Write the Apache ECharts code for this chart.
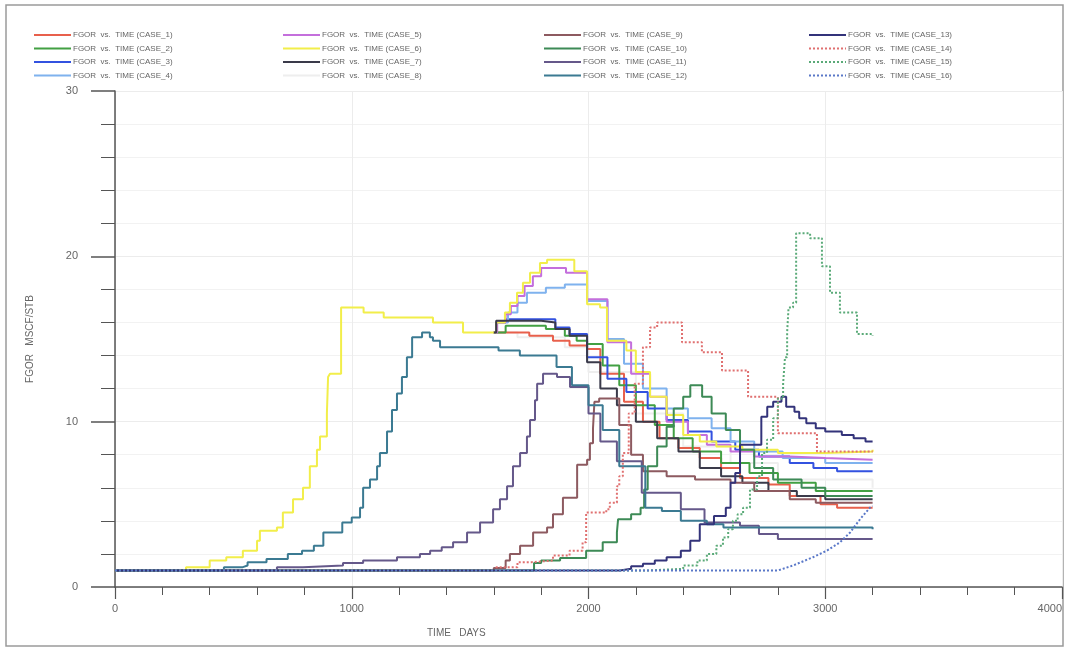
<!DOCTYPE html>
<html>
<head>
<meta charset="utf-8">
<title>FGOR vs. TIME</title>
<script src="https://cdn.jsdelivr.net/npm/echarts@6/dist/echarts.min.js"></script>
<style>
  html, body { margin: 0; padding: 0; background: #ffffff; }
  #chart { width: 1065px; height: 652px; }
</style>
</head>
<body>
<div id="chart"></div>
<script>
// FGOR (MSCF/STB) against TIME (DAYS) for sixteen simulation cases.
// Each array holds [time, value] pairs; the value holds until the next time.

const case1 = [[1600,15.4],[1750,15.2],[1850,14.9],[1920,14.6],[1994,14.4],[2050,12.9],[2150,11.2],[2230,10.0],[2300,9.0],[2380,8.4],[2470,7.8],[2560,7.2],[2640,6.6],[2760,6.2],[2850,5.5],[2980,5.0],[3050,4.8],[3200,4.8]];
const case2 = [[1600,15.4],[1650,15.8],[1820,15.6],[1900,15.2],[1950,14.9],[1994,14.7],[2060,13.4],[2130,12.2],[2200,11.0],[2280,9.8],[2360,9.0],[2440,8.2],[2560,7.5],[2680,6.9],[2800,6.3],[2960,5.8],[3200,5.8]];
const case3 = [[1600,15.4],[1610,16.0],[1650,16.2],[1860,15.7],[1920,15.3],[1994,13.9],[2080,12.6],[2160,11.8],[2250,10.8],[2330,10.1],[2420,9.4],[2520,8.8],[2620,8.3],[2720,7.9],[2850,7.5],[2950,7.2],[3050,7.0],[3200,7.0]];
const case4 = [[1600,15.4],[1614,16.0],[1660,16.6],[1700,17.2],[1740,17.8],[1820,18.1],[1900,18.3],[1994,17.3],[2080,15.0],[2150,13.5],[2230,12.0],[2330,10.8],[2420,10.2],[2520,9.6],[2600,8.8],[2700,8.2],[2820,7.8],[3000,7.5],[3200,7.5]];
const case5 = [[1600,15.4],[1614,16.0],[1650,16.5],[1672,17.0],[1700,17.6],[1730,18.2],[1765,18.8],[1800,19.3],[1905,19.0],[1994,17.4],[2080,14.8],[2180,12.9],[2260,11.5],[2330,10.0],[2420,9.2],[2500,8.6],[2600,8.2],[2700,7.9],[2850,7.8],[3000,7.7],[3200,7.7]];
const case6 = [[0,1.0],[300,1.2],[400,1.6],[470,1.8],[540,2.2],[600,2.8],[612,3.4],[684,3.6],[709,4.5],[752,5.3],[794,6.0],[823,7.3],[853,8.3],[866,9.1],[895,10.5],[900,12.7],[908,12.9],[955,16.9],[1050,16.6],[1135,16.3],[1343,16.0],[1470,15.4],[1610,16.0],[1647,16.6],[1668,17.2],[1698,17.8],[1723,18.4],[1753,19.0],[1795,19.6],[1825,19.8],[1940,19.1],[1994,17.1],[2049,16.9],[2078,14.9],[2160,14.3],[2200,13.0],[2260,11.5],[2330,10.4],[2400,9.2],[2470,8.8],[2540,8.5],[2650,8.3],[2800,8.1],[3000,8.2],[3200,8.3]];
const case7 = [[1600,15.4],[1610,16.1],[1800,16.0],[1860,15.6],[1920,15.2],[1994,13.6],[2050,12.0],[2120,11.0],[2200,10.0],[2290,9.0],[2380,8.2],[2470,7.2],[2560,6.7],[2650,6.3],[2760,5.8],[2880,5.5],[3000,5.3],[3200,5.3]];
const case8 = [[1600,15.4],[1700,15.1],[1900,14.5],[2000,13.0],[2200,10.5],[2400,8.5],[2600,7.5],[2800,6.5],[3200,6.0]];
const case9 = [[0,1.0],[1600,1.15],[1650,1.6],[1668,2.0],[1711,2.5],[1766,3.3],[1825,3.6],[1850,4.4],[1892,5.4],[1952,7.4],[1994,7.7],[2006,8.7],[2019,9.6],[2025,11.2],[2045,11.4],[2130,9.8],[2180,8.0],[2230,7.0],[2330,6.7],[2450,6.5],[2600,6.3],[2700,5.8],[2850,5.3],[2960,5.1],[3200,5.1]];
const case10 = [[0,1.0],[1770,1.45],[1800,1.6],[1880,1.75],[1990,2.2],[2060,2.7],[2120,3.3],[2125,4.1],[2180,4.4],[2220,4.8],[2235,5.9],[2250,7.3],[2290,8.5],[2330,9.7],[2360,10.8],[2400,11.5],[2430,12.2],[2480,11.5],[2520,10.5],[2580,9.5],[2640,8.3],[2700,7.2],[2780,6.5],[2900,6.0],[3000,5.5],[3200,5.5]];
const case11 = [[0,1.0],[684,1.2],[794,1.3],[963,1.45],[1048,1.6],[1191,1.8],[1288,2.0],[1331,2.2],[1380,2.4],[1428,2.7],[1487,3.3],[1542,3.9],[1597,4.7],[1626,5.3],[1656,6.1],[1681,7.3],[1711,8.1],[1740,9.1],[1753,10.1],[1774,11.3],[1783,12.3],[1808,12.9],[1867,12.7],[1922,12.1],[2000,10.5],[2050,8.8],[2120,7.6],[2225,5.7],[2390,4.7],[2490,3.9],[2640,3.7],[2720,3.2],[2800,2.9],[3200,2.9]];
const case12 = [[0,1.0],[460,1.2],[540,1.3],[560,1.5],[640,1.7],[730,2.0],[790,2.2],[840,2.5],[880,3.3],[960,3.9],[1000,4.2],[1035,4.8],[1048,6.0],[1077,6.5],[1107,7.3],[1119,8.1],[1149,9.4],[1170,10.7],[1191,11.7],[1212,12.7],[1233,13.9],[1255,15.1],[1297,15.4],[1330,15.1],[1343,14.9],[1373,14.5],[1620,14.3],[1710,14.0],[1865,13.3],[1930,12.2],[2000,11.0],[2060,9.5],[2130,7.3],[2240,4.8],[2310,4.6],[2390,4.0],[2500,3.8],[2570,3.6],[3200,3.5]];
const case13 = [[0,1.0],[2133,1.1],[2180,1.25],[2230,1.4],[2280,1.6],[2330,1.8],[2390,2.2],[2430,2.8],[2470,3.8],[2530,4.3],[2580,4.8],[2600,6.3],[2620,6.9],[2640,8.6],[2730,10.3],[2755,10.9],[2780,11.2],[2815,11.5],[2835,10.9],[2870,10.6],[2890,10.2],[2920,9.9],[2960,9.6],[3000,9.4],[3070,9.2],[3120,9.0],[3170,8.8],[3200,8.8]];
const case14 = [[0,1.0],[1610,1.2],[1700,1.5],[1760,1.6],[1850,1.9],[1920,2.2],[1975,2.7],[1990,4.5],[2075,4.7],[2090,5.1],[2120,6.1],[2130,6.7],[2145,8.1],[2170,10.5],[2195,12.3],[2230,14.5],[2260,15.7],[2290,16.0],[2395,14.8],[2479,14.2],[2564,13.1],[2674,11.5],[2800,9.3],[2965,8.2],[3200,8.2]];
const case15 = [[0,1.0],[2250,1.1],[2400,1.3],[2460,1.6],[2500,2.0],[2540,2.5],[2568,3.0],[2590,3.5],[2610,4.0],[2630,4.4],[2653,4.8],[2682,5.9],[2712,6.7],[2733,8.1],[2754,8.9],[2780,10.2],[2800,11.4],[2822,12.3],[2830,13.9],[2839,15.4],[2845,16.9],[2864,17.2],[2877,21.4],[2936,21.1],[2986,19.4],[3020,17.8],[3062,16.6],[3134,15.3],[3200,15.2]];
const case16 = [[0,1.0],[2800,1.0],[2864,1.3],[2948,1.8],[3007,2.2],[3062,2.7],[3105,3.3],[3147,4.1],[3189,4.8],[3200,4.9]];

const caseNames = [
  'FGOR  vs.  TIME (CASE_1)', 'FGOR  vs.  TIME (CASE_2)', 'FGOR  vs.  TIME (CASE_3)', 'FGOR  vs.  TIME (CASE_4)',
  'FGOR  vs.  TIME (CASE_5)', 'FGOR  vs.  TIME (CASE_6)', 'FGOR  vs.  TIME (CASE_7)', 'FGOR  vs.  TIME (CASE_8)',
  'FGOR  vs.  TIME (CASE_9)', 'FGOR  vs.  TIME (CASE_10)', 'FGOR  vs.  TIME (CASE_11)', 'FGOR  vs.  TIME (CASE_12)',
  'FGOR  vs.  TIME (CASE_13)', 'FGOR  vs.  TIME (CASE_14)', 'FGOR  vs.  TIME (CASE_15)', 'FGOR  vs.  TIME (CASE_16)'
];
const caseData = [case1, case2, case3, case4, case5, case6, case7, case8,
                  case9, case10, case11, case12, case13, case14, case15, case16];
const caseColors = ['#e8604c', '#42a043', '#3352e0', '#7fb2ee', '#c46fdc', '#f2ee4a', '#3a3a4a', '#eeeeee',
                    '#8d5a60', '#3d8a56', '#65588a', '#3b7a92', '#33337a', '#e07070', '#5aaa78', '#5a78c8'];
const caseLineType = ['solid','solid','solid','solid','solid','solid','solid','solid',
                      'solid','solid','solid','solid','solid','dotted','dotted','dotted'];
const caseStep = [true,true,true,true,true,true,true,true,true,true,true,true,true,true,true,false];

const xTitle = 'TIME   DAYS';
const yTitle = 'FGOR   MSCF/STB';

const font = 'Liberation Sans, Arial, sans-serif';
const axisGrey = '#555555';

const series = caseData.map((d, i) => ({
  name: caseNames[i],
  type: 'line',
  data: d,
  step: caseStep[i] ? 'end' : false,
  symbol: 'none',
  showSymbol: false,
  z: i === 7 ? 1 : 2,
  color: caseColors[i],
  lineStyle: { color: caseColors[i], width: 2, type: caseLineType[i] },
  emphasis: { disabled: true }
}));

function legendColumn(col, left) {
  return {
    data: caseNames.slice(col * 4, col * 4 + 4),
    orient: 'vertical',
    left: left,
    top: 31,
    padding: 0,
    itemWidth: 37,
    itemHeight: 8,
    itemGap: 5.5,
    selectedMode: false,
    itemStyle: { opacity: 0 },
    textStyle: { fontSize: 8, color: '#666', fontFamily: font, padding: [0, 0, 0, -3] }
  };
}

const chart = echarts.init(document.getElementById('chart'), null, { renderer: 'canvas' });
chart.setOption({
  animation: false,
  backgroundColor: '#ffffff',
  legend: [legendColumn(0, 33), legendColumn(1, 282), legendColumn(2, 543), legendColumn(3, 808)],
  grid: { left: 115, right: 3, top: 91, bottom: 65, containLabel: false, outerBoundsMode: 'none' },
  xAxis: {
    type: 'value',
    min: 0, max: 4000, interval: 1000,
    axisLine: { show: true, onZero: false, lineStyle: { color: axisGrey, width: 1.5 } },
    axisTick: { show: true, length: 12, lineStyle: { color: axisGrey, width: 1.2 } },
    minorTick: { show: true, splitNumber: 5, length: 8, lineStyle: { color: axisGrey, width: 1 } },
    axisLabel: { color: '#666', fontSize: 11, fontFamily: font, margin: 16, alignMaxLabel: 'right', formatter: v => String(v) },
    splitLine: { show: true, lineStyle: { color: '#ececec', width: 1 } }
  },
  yAxis: {
    type: 'value',
    min: 0, max: 30, interval: 10,
    name: yTitle,
    nameLocation: 'middle',
    nameGap: 80,
    nameTextStyle: { color: '#666', fontSize: 10, fontFamily: font },
    axisLine: { show: true, onZero: false, lineStyle: { color: axisGrey, width: 1.5 } },
    axisTick: { show: true, length: 24, lineStyle: { color: axisGrey, width: 1.5 } },
    minorTick: { show: true, splitNumber: 5, length: 14, lineStyle: { color: axisGrey, width: 1 } },
    axisLabel: { color: '#666', fontSize: 11, fontFamily: font, margin: 37, formatter: v => String(v) },
    splitLine: { show: true, lineStyle: { color: '#ececec', width: 1 } },
    minorSplitLine: { show: true, lineStyle: { color: '#f2f2f2', width: 1 } }
  },
  graphic: [
    {
      type: 'rect', silent: true, z: -1,
      shape: { x: 6, y: 5, width: 1057, height: 641 },
      style: { fill: 'none', stroke: '#9a9a9a', lineWidth: 1.5 }
    },
    {
      type: 'text', left: 427, top: 628, silent: true,
      style: { text: xTitle, fill: '#666', font: '10px ' + font }
    }
  ],
  series: series
});
</script>
</body>
</html>
